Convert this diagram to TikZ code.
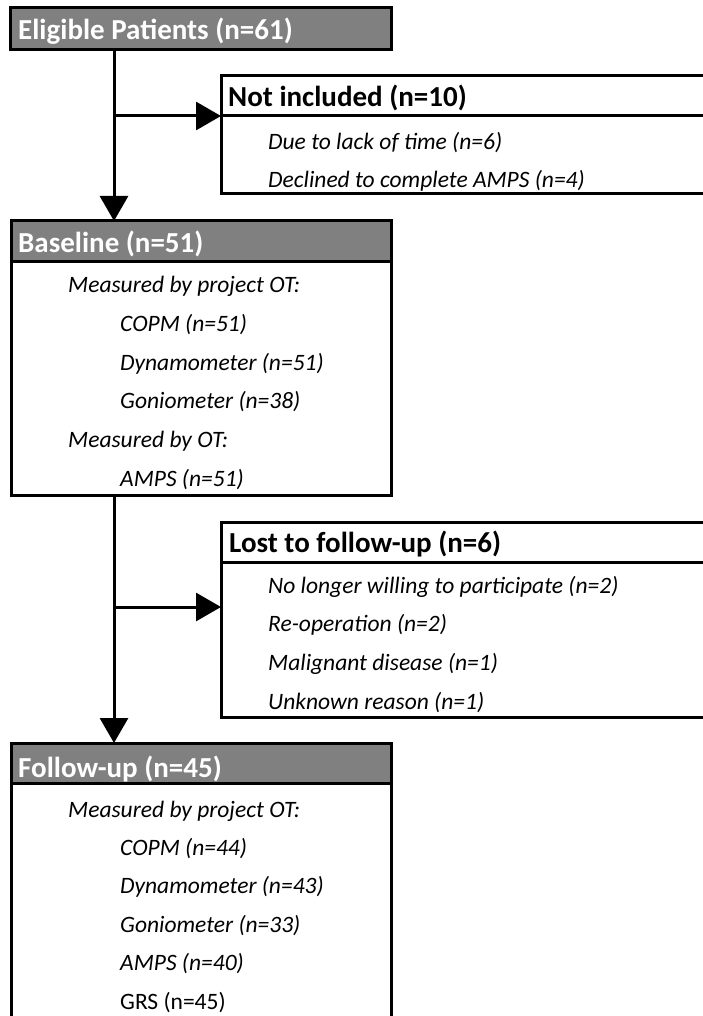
\documentclass[tikz,border=0pt]{standalone}
\usepackage{fontspec}
\setmainfont{Carlito}
\usetikzlibrary{arrows.meta}
\definecolor{hdrgray}{HTML}{808080}
\tikzset{
  box/.style={draw, line width=3pt, anchor=north west, inner sep=0pt, outer sep=0pt},
  hdr/.style={box, fill=hdrgray},
  htext/.style={anchor=base west, inner sep=0pt, font=\bfseries\fontsize{29}{33}\selectfont},
  wtext/.style={htext, text=white},
  itext/.style={anchor=base west, inner sep=0pt, font=\itshape\fontsize{23.5}{27}\selectfont},
  rtext/.style={anchor=base west, inner sep=0pt, font=\fontsize{23.5}{27}\selectfont},
  arr/.style={line width=3pt, -{Triangle[length=25pt,width=28pt]}}
}
\begin{document}
\begin{tikzpicture}[x=1pt,y=-1pt]
\useasboundingbox (0,0) rectangle (703,1016);
\clip (0,0) rectangle (703,1016);
% Eligible
\node[hdr, minimum width=381pt, minimum height=42pt] (elig) at (10,8) {};
\node[wtext] (eligt) at (18,40) {Eligible Patients (n=61)};
% Not included
\node[box, minimum width=494pt, minimum height=40pt] (nihdr) at (221,76) {};
\node[box, minimum width=494pt, minimum height=78pt] (nibody) at (221,116) {};
\node[htext] (nit) at (228,107) {Not included (n=10)};
\node[itext] (ni1) at (268,150) {Due to lack of time (n=6)};
\node[itext] (ni2) at (268,188) {Declined to complete AMPS (n=4)};
% Baseline
\node[hdr, minimum width=380pt, minimum height=40pt] (bhdr) at (11,221) {};
\node[box, minimum width=380pt, minimum height=234pt] (bbody) at (11,261) {};
\node[wtext] (bt) at (18,252) {Baseline (n=51)};
\node[itext] (b1) at (68,292) {Measured by project OT:};
\node[itext] (b2) at (120,331) {COPM (n=51)};
\node[itext] (b3) at (120,370) {Dynamometer (n=51)};
\node[itext] (b4) at (120,408) {Goniometer (n=38)};
\node[itext] (b5) at (68,447) {Measured by OT:};
\node[itext] (b6) at (120,486) {AMPS (n=51)};
% Lost to follow-up
\node[box, minimum width=494pt, minimum height=40pt] (lhdr) at (221,522) {};
\node[box, minimum width=494pt, minimum height=155pt] (lbody) at (221,562) {};
\node[htext] (lt) at (229,552) {Lost to follow-up (n=6)};
\node[itext] (l1) at (268,593) {No longer willing to participate (n=2)};
\node[itext] (l2) at (268,631) {Re-operation (n=2)};
\node[itext] (l3) at (268,670) {Malignant disease (n=1)};
\node[itext] (l4) at (268,709) {Unknown reason (n=1)};
% Follow-up
\node[hdr, minimum width=380pt, minimum height=40pt] (fhdr) at (11,743) {};
\node[box, minimum width=380pt, minimum height=260pt] (fbody) at (11,783) {};
\node[wtext] (ft) at (18,777) {Follow-up (n=45)};
\node[itext] (f1) at (68,817) {Measured by project OT:};
\node[itext] (f2) at (120,855) {COPM (n=44)};
\node[itext] (f3) at (120,893) {Dynamometer (n=43)};
\node[itext] (f4) at (120,932) {Goniometer (n=33)};
\node[itext] (f5) at (120,970) {AMPS (n=40)};
\node[rtext] (f6) at (120,1009) {GRS (n=45)};
% connectors
\coordinate (vx) at (114,0);
\coordinate (br2) at (114,607);
\draw[arr] (vx |- elig.south) -- (vx |- bhdr.north);
\draw[arr] (vx |- nihdr.south) -- (nihdr.south west);
\draw[arr] (vx |- bbody.south) -- (vx |- fhdr.north);
\draw[arr] (br2) -- (lbody.west |- br2);
\end{tikzpicture}
\end{document}
